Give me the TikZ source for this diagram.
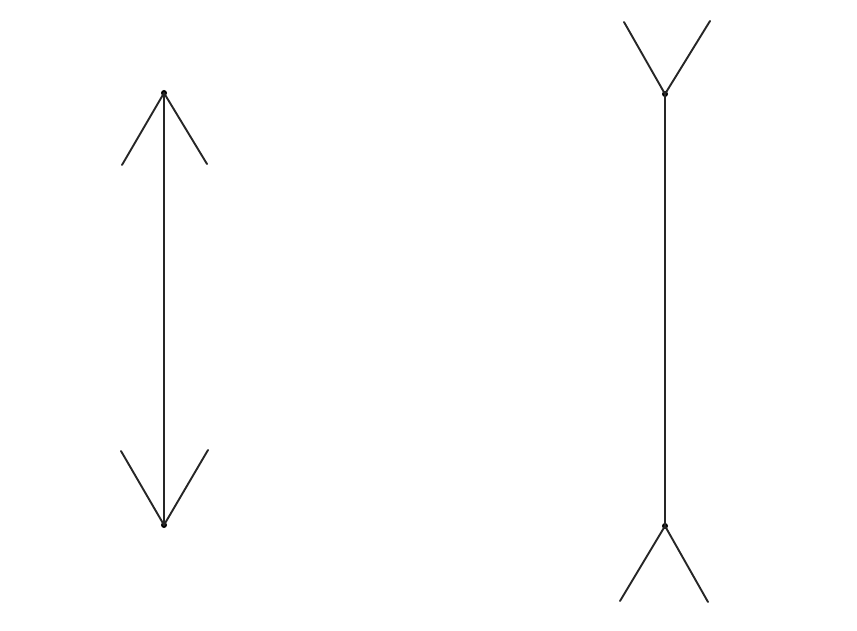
\documentclass[tikz,border=0pt]{standalone}
\begin{document}
\begin{tikzpicture}[x=1pt,y=-1pt,
  fig/.style={line width=1.9pt,line cap=round,black!85},
  apex/.style={circle,fill=black,inner sep=0pt,minimum size=6pt}]
\useasboundingbox (0,0) rectangle (857,631);
% left figure
\node[apex] (LT) at (164,93) {};
\node[apex] (LB) at (164,525) {};
\coordinate (LT1) at (122,165);
\coordinate (LT2) at (207,164);
\coordinate (LB1) at (121,451);
\coordinate (LB2) at (208,450);
\draw[fig] (LT.center) -- (LB.center);
\draw[fig] (LT.center) -- (LT1);
\draw[fig] (LT.center) -- (LT2);
\draw[fig] (LB.center) -- (LB1);
\draw[fig] (LB.center) -- (LB2);
% right figure
\node[apex] (RT) at (665,94) {};
\node[apex] (RB) at (665,526) {};
\coordinate (RT1) at (624,22);
\coordinate (RT2) at (710,21);
\coordinate (RB1) at (620,601);
\coordinate (RB2) at (708,602);
\draw[fig] (RT.center) -- (RB.center);
\draw[fig] (RT.center) -- (RT1);
\draw[fig] (RT.center) -- (RT2);
\draw[fig] (RB.center) -- (RB1);
\draw[fig] (RB.center) -- (RB2);
\end{tikzpicture}
\end{document}
